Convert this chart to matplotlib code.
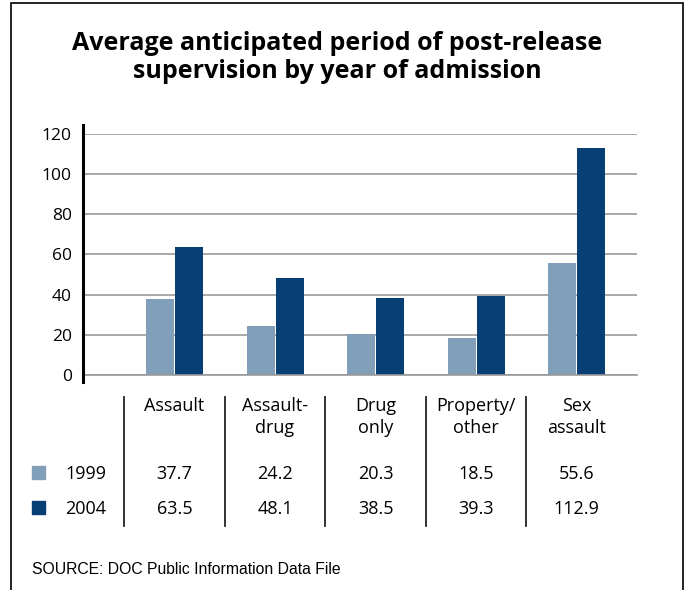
import matplotlib.pyplot as plt
import matplotlib.transforms as mtransforms
from matplotlib.patches import Rectangle
from matplotlib.lines import Line2D

# data
categories = ['Assault', 'Assault-\ndrug', 'Drug\nonly', 'Property/\nother', 'Sex\nassault']
years = ['1999', '2004']
vals_1999 = [37.7, 24.2, 20.3, 18.5, 55.6]
vals_2004 = [63.5, 48.1, 38.5, 39.3, 112.9]
yticks = [0, 20, 40, 60, 80, 100, 120]

light = '#819fb9'
dark = '#073f74'
plt.rcParams['font.family'] = ['Open Sans', 'DejaVu Sans']
fs = 13

fig = plt.figure(figsize=(6.86, 5.90), dpi=100)
ax = fig.add_axes([0.121, 0.3644, 0.8076, 0.4085])

x = list(range(len(categories)))
w = 0.278
ax.bar([i - 0.144 for i in x], vals_1999, width=w, color=light, zorder=3)
ax.bar([i + 0.144 for i in x], vals_2004, width=w, color=dark, zorder=3)

ax.set_xlim(-0.91, 4.6)
ax.set_ylim(0, 120)
ax.set_yticks(yticks)
ax.set_yticklabels([str(t) for t in yticks], fontsize=12.5)
ax.tick_params(axis='y', length=0, pad=8)
ax.set_xticks([])
ax.grid(axis='y', color='#999999', linewidth=1.2, zorder=1)
# baseline sits over the bars
ax.axhline(0, color='#999999', linewidth=1.2, zorder=4, clip_on=False)
for s in ax.spines.values():
    s.set_visible(False)
ax.add_line(Line2D([0, 0], [-0.029, 1.037], transform=ax.transAxes, color='black',
                   linewidth=2.2, clip_on=False, zorder=5))

# title
fig.text(0.4913, 0.9153, 'Average anticipated period of post-release', ha='center',
         va='baseline', fontsize=18, fontweight='bold')
fig.text(0.4913, 0.8678, 'supervision by year of admission', ha='center',
         va='baseline', fontsize=18, fontweight='bold')

# table under the chart
tr = mtransforms.blended_transform_factory(ax.transData, fig.transFigure)
for i, c in enumerate(categories):
    lines = c.split('\n')
    ax.text(i, 0.3034, lines[0], transform=tr, ha='center', va='baseline', fontsize=fs)
    if len(lines) > 1:
        ax.text(i, 0.2656, lines[1], transform=tr, ha='center', va='baseline', fontsize=fs)
    ax.text(i, 0.1881, f'{vals_1999[i]:.1f}', transform=tr, ha='center', va='baseline', fontsize=fs)
    ax.text(i, 0.1288, f'{vals_2004[i]:.1f}', transform=tr, ha='center', va='baseline', fontsize=fs)
    ax.add_line(Line2D([i - 0.5, i - 0.5], [0.3271, 0.1085], transform=tr, color='#222222',
                       linewidth=1.3, clip_on=False))

for yb, yr, col in [(0.1881, years[0], light), (0.1288, years[1], dark)]:
    fig.patches.append(Rectangle((32 / 686, yb), 13 / 686, 13 / 590, transform=fig.transFigure,
                                 color=col))
    fig.text(65 / 686, yb, yr, ha='left', va='baseline', fontsize=fs)

fig.text(32 / 686, 0.0271, 'SOURCE: DOC Public Information Data File', ha='left', va='baseline',
         fontsize=11.3, family=['Liberation Sans', 'DejaVu Sans'])

# outer frame
fig.patches.append(Rectangle((11 / 686, -0.1), 672 / 686, 1.1 - 3 / 590, transform=fig.transFigure,
                             fill=False, edgecolor='black', linewidth=1.2))

fig.savefig('out.png', dpi=100)
